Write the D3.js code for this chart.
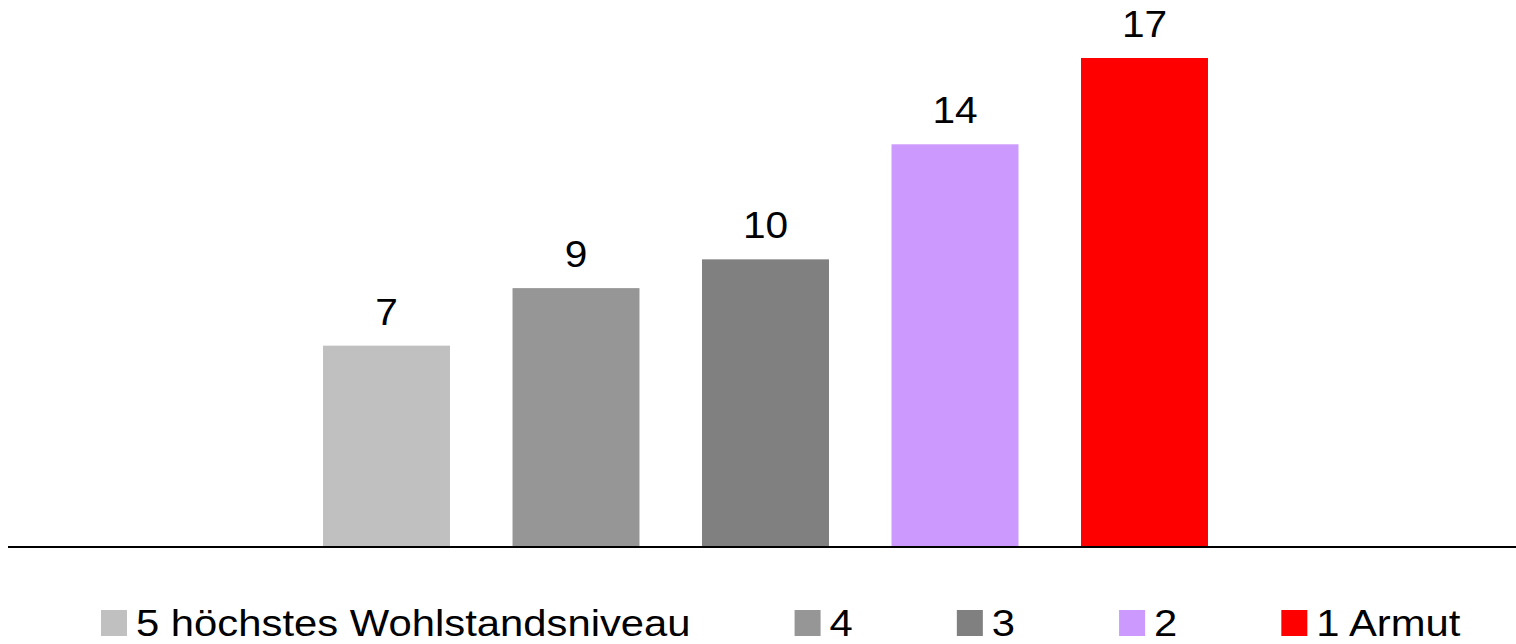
<!DOCTYPE html>
<html>
<head>
<meta charset="utf-8">
<script src="https://cdn.jsdelivr.net/npm/d3@7"></script>
<style>
  html, body { margin: 0; padding: 0; background: #fff; }
  svg { display: block; }
  text { font-family: "Liberation Sans", Arial, sans-serif; fill: #000; }
</style>
</head>
<body>
<svg id="chart" width="1516" height="644"></svg>
<script>
// Wohlstandsniveau groups, values in %
const categories = ["5 höchstes Wohlstandsniveau", "4", "3", "2", "1 Armut"];
const values = [7, 9, 10, 14, 17];
const colors = ["#C0C0C0", "#969696", "#808080", "#CC99FF", "#FF0000"];

const W = 1516, H = 644;
const svg = d3.select("#chart");
const stretch = 1.13; // wide glyph rendering of the labels

const x = d3.scaleBand()
  .domain(categories)
  .range([291.75, 1239.25])
  .paddingInner(0.33)
  .paddingOuter(0.165);

const y = d3.scaleLinear()
  .domain([0, 17])
  .range([547, 58]);

// bars
svg.append("g").selectAll("rect")
  .data(categories)
  .join("rect")
  .attr("x", d => x(d))
  .attr("y", (d, i) => y(values[i]))
  .attr("width", x.bandwidth())
  .attr("height", (d, i) => y(0) - y(values[i]))
  .attr("fill", (d, i) => colors[i]);

// value labels
svg.append("g").selectAll("text")
  .data(categories)
  .join("text")
  .attr("text-anchor", "middle")
  .attr("font-size", 36)
  .attr("transform", (d, i) => `translate(${x(d) + x.bandwidth() / 2},${y(values[i]) - 21}) scale(${stretch},1)`)
  .text((d, i) => values[i]);

// category axis line
svg.append("line")
  .attr("x1", 8).attr("x2", W)
  .attr("y1", y(0)).attr("y2", y(0))
  .attr("stroke", "#000")
  .attr("stroke-width", 2);

// legend
const legend = svg.append("g");
const legendBase = 636;
let lx = 101;
const gap = 104;
categories.forEach((c, i) => {
  const g = legend.append("g").attr("transform", `translate(${lx},0)`);
  g.append("rect")
    .attr("x", 0).attr("y", legendBase - 26)
    .attr("width", 26).attr("height", 26)
    .attr("fill", colors[i]);
  const t = g.append("text")
    .attr("font-size", 37)
    .attr("transform", `translate(35,${legendBase}) scale(${stretch},1)`)
    .text(c);
  const w = t.node().getComputedTextLength() * stretch;
  lx += 35 + w + gap;
});
</script>
</body>
</html>
